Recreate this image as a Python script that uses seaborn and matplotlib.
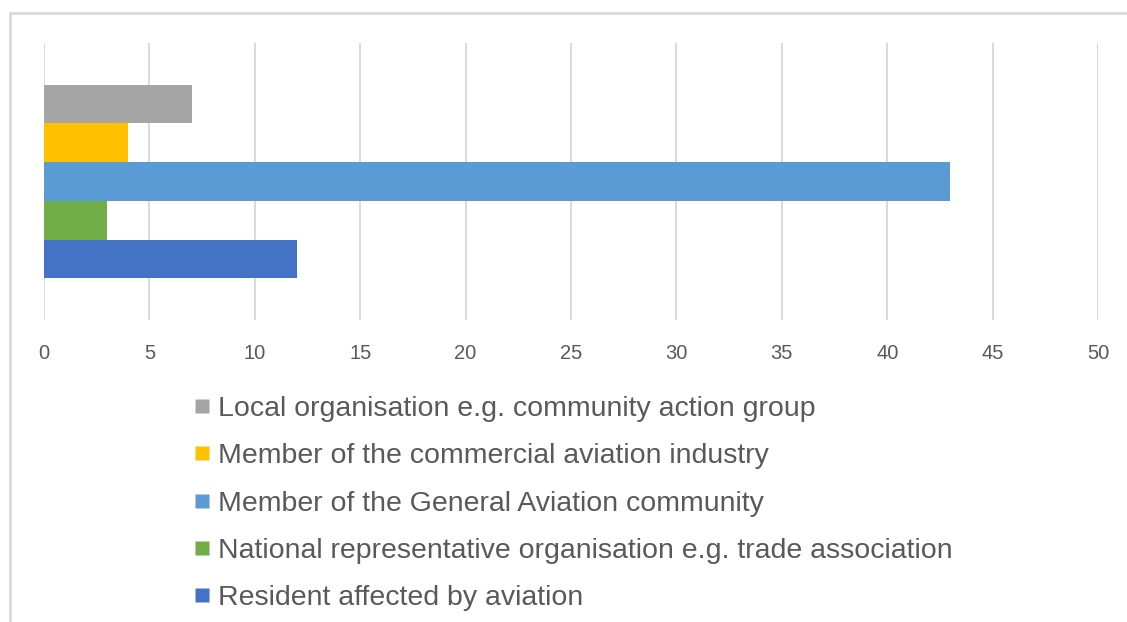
import matplotlib
matplotlib.use("Agg")
import matplotlib.pyplot as plt
from matplotlib.lines import Line2D
import pandas as pd
import seaborn as sns

# Respondent types and number of responses
respondent_types = [
    "Local organisation e.g. community action group",
    "Member of the commercial aviation industry",
    "Member of the General Aviation community",
    "National representative organisation e.g. trade association",
    "Resident affected by aviation",
]
responses = [7, 4, 43, 3, 12]
bar_colors = ["#A5A5A5", "#FFC000", "#5B9BD5", "#70AD47", "#4472C4"]
x_ticks = [0, 5, 10, 15, 20, 25, 30, 35, 40, 45, 50]

df = pd.DataFrame({
    "group": [""] * len(respondent_types),
    "type": respondent_types,
    "count": responses,
})

sns.set_theme(style="white")
plt.rcParams["font.family"] = ["Liberation Sans", "DejaVu Sans"]

W, H = 1127, 622
fig = plt.figure(figsize=(W / 100, H / 100), dpi=100)
ax = fig.add_axes([44 / W, (H - 320) / H, (1098 - 44) / W, (320 - 43) / H])

sns.barplot(
    data=df, x="count", y="group", hue="type", hue_order=respondent_types,
    palette=bar_colors, orient="h", width=0.7, saturation=1,
    edgecolor="none", linewidth=0, ax=ax, legend=True,
)

ax.set_xlim(x_ticks[0], x_ticks[-1])
ax.set_ylim(0.5, -0.5)
ax.set_xticks(x_ticks)
ax.set_xticklabels([str(t) for t in x_ticks], color="#595959", fontsize=14.5)
ax.set_yticks([])
ax.set_xlabel("")
ax.set_ylabel("")
ax.tick_params(axis="x", length=0, pad=17.5)
for s in ax.spines.values():
    s.set_visible(False)
ax.grid(axis="x", color="#D9D9D9", linewidth=1.4)
ax.set_axisbelow(True)

# Legend beneath the plot with square swatches
handles = [Line2D([0], [0], marker="s", linestyle="none", markersize=10.5,
                  markerfacecolor=c, markeredgecolor="none") for c in bar_colors]
ax.get_legend().remove()
fig.legend(
    handles, respondent_types, loc="upper left",
    bbox_to_anchor=(195 / W, 1 - 396 / H), frameon=False,
    fontsize=20.5, labelcolor="#595959", handlelength=0.5, handletextpad=0.3,
    labelspacing=0.75, borderpad=0, borderaxespad=0,
)

# Chart frame (left and top edges)
frame_kw = dict(color="#D9D9D9", linewidth=2, transform=fig.transFigure)
fig.add_artist(Line2D([10 / W, 10 / W], [0, 1 - 13 / H], **frame_kw))
fig.add_artist(Line2D([10 / W, 1.0], [1 - 13 / H, 1 - 13 / H], **frame_kw))

fig.savefig("out.png", dpi=100, facecolor="white")
